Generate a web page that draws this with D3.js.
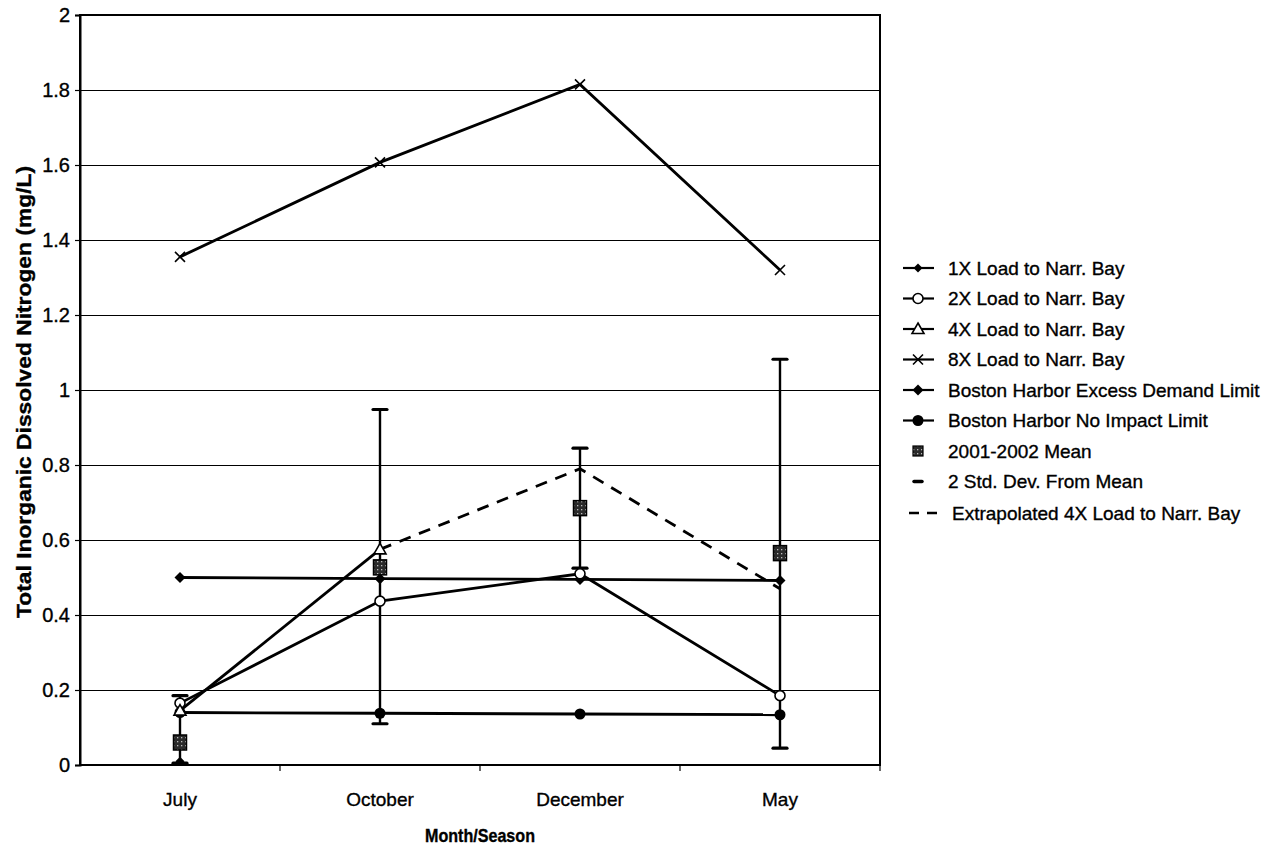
<!DOCTYPE html>
<html><head><meta charset="utf-8">
<script src="https://cdn.jsdelivr.net/npm/d3@7"></script>
<style>
body{margin:0;background:#fff;}
svg text{font-family:"Liberation Sans",Arial,sans-serif;fill:#000;stroke:#000;stroke-width:0.35px;}
</style></head>
<body><svg id="c" width="1278" height="851"></svg>
<script>
const categories = ["July","October","December","May"];
const load1X = [0.01, null, null, null];
const load2X = [0.165, 0.437, 0.51, 0.185];
const load4X = [0.145, 0.575, null, null];
const load8X = [1.355, 1.607, 1.815, 1.32];
const excessDemand = [0.5, 0.497, 0.495, 0.492];
const noImpact = [0.14, 0.138, 0.136, 0.134];
const mean0102 = [0.06, 0.527, 0.685, 0.565];
const sdLow = [0.005, 0.11, 0.525, 0.045];
const sdHigh = [0.185, 0.948, 0.845, 1.082];
const extrap4X = [null, 0.575, 0.79, 0.47];
const yTicks = [0,0.2,0.4,0.6,0.8,1,1.2,1.4,1.6,1.8,2];
const legendLabels = ["1X Load to Narr. Bay","2X Load to Narr. Bay","4X Load to Narr. Bay","8X Load to Narr. Bay","Boston Harbor Excess Demand Limit","Boston Harbor No Impact Limit","2001-2002 Mean","2 Std. Dev. From Mean","Extrapolated 4X Load to Narr. Bay"];

const svg = d3.select("#c");
const L=80,R=880,T=15,B=765;
const x = d3.scaleBand().domain(categories).range([L,R]);
const cx = c => x(c)+x.bandwidth()/2;
const y = d3.scaleLinear().domain([0,2]).range([B,T]);

function squeeze(sel, f){
  sel.each(function(){ const w=this.getComputedTextLength(); d3.select(this).attr("textLength",w*f).attr("lengthAdjust","spacingAndGlyphs"); });
}

const defs = svg.append("defs");
const pat = defs.append("pattern").attr("id","dots").attr("width",4).attr("height",4).attr("patternUnits","userSpaceOnUse");
pat.append("rect").attr("width",4).attr("height",4).attr("fill","#2a2a2a");
pat.append("rect").attr("x",1).attr("y",1).attr("width",1.3).attr("height",1.3).attr("fill","#bbb");

// gridlines
svg.append("g").attr("shape-rendering","crispEdges").selectAll("line").data(yTicks).join("line")
  .attr("x1",L).attr("x2",R).attr("y1",d=>y(d)).attr("y2",d=>y(d))
  .attr("stroke","#000").attr("stroke-width",1);
svg.append("rect").attr("x",L).attr("y",T).attr("width",R-L).attr("height",B-T).attr("shape-rendering","crispEdges")
  .attr("fill","none").attr("stroke","#000").attr("stroke-width",1.5);

// y axis
const ya = svg.append("g").attr("transform",`translate(${L},0)`)
  .call(d3.axisLeft(y).tickValues(yTicks).tickFormat(d3.format("")).tickSize(5));
ya.select(".domain").attr("stroke-width",2);
ya.selectAll(".tick line").attr("stroke-width",1.2);
ya.selectAll("text").style("font-size","20px").attr("dx","-2");
// x axis
const xa = svg.append("g").attr("transform",`translate(0,${B})`)
  .call(d3.axisBottom(x).tickSize(0));
xa.select(".domain").remove();
xa.selectAll("text").style("font-size","19px").attr("dy",null).attr("y",41);
svg.append("g").selectAll("line").data(categories).join("line")
  .attr("x1",(d,i)=>L+(i+1)*x.bandwidth()).attr("x2",(d,i)=>L+(i+1)*x.bandwidth())
  .attr("y1",B).attr("y2",B+6).attr("stroke","#000").attr("stroke-width",1.2);

// titles
svg.append("text").attr("x",480).attr("y",842).attr("text-anchor","middle")
  .style("font-size","18.5px").style("font-weight","bold").text("Month/Season").call(squeeze,0.87);
svg.append("text").attr("transform","translate(31,392) rotate(-90)").attr("text-anchor","middle")
  .style("font-size","21px").style("font-weight","bold").attr("textLength",452).attr("lengthAdjust","spacingAndGlyphs")
  .text("Total Inorganic Dissolved Nitrogen (mg/L)");

const lineGen = d3.line().defined(d=>d.v!=null).x(d=>cx(d.c)).y(d=>y(d.v));
const pts = arr => arr.map((v,i)=>({c:categories[i],v}));

function drawLine(arr, dash){
  svg.append("path").datum(pts(arr)).attr("d",lineGen).attr("fill","none")
    .attr("stroke","#000").attr("stroke-width",2.8).attr("stroke-dasharray",dash?"12,9":null);
}
drawLine(excessDemand);
drawLine(noImpact);
drawLine(extrap4X,true);
drawLine(load1X);
drawLine(load2X);
drawLine(load4X);
drawLine(load8X);

// error bars
const eb = svg.append("g");
categories.forEach((c,i)=>{
  eb.append("line").attr("x1",cx(c)).attr("x2",cx(c)).attr("y1",y(sdLow[i])).attr("y2",y(sdHigh[i])).attr("stroke","#000").attr("stroke-width",2.4);
  [sdLow[i],sdHigh[i]].forEach(v=>{
    eb.append("line").attr("x1",cx(c)-7).attr("x2",cx(c)+7).attr("y1",y(v)).attr("y2",y(v)).attr("stroke","#000").attr("stroke-width",3.2).attr("stroke-linecap","round");
  });
});

function marker(g, type, px, py){
  if(type==="diamond"||type==="smalldiamond"){
    const s = type==="diamond"?5.5:4.5;
    g.append("path").attr("d",`M${px},${py-s}L${px+s},${py}L${px},${py+s}L${px-s},${py}Z`).attr("fill","#000");
  } else if(type==="fcircle"){
    g.append("circle").attr("cx",px).attr("cy",py).attr("r",5.5).attr("fill","#000");
  } else if(type==="ocircle"){
    g.append("circle").attr("cx",px).attr("cy",py).attr("r",5).attr("fill","#fff").attr("stroke","#000").attr("stroke-width",1.6);
  } else if(type==="tri"){
    g.append("path").attr("d",`M${px},${py-6}L${px+6},${py+4.5}L${px-6},${py+4.5}Z`).attr("fill","#fff").attr("stroke","#000").attr("stroke-width",1.6);
  } else if(type==="x"){
    g.append("path").attr("d",`M${px-5},${py-5}L${px+5},${py+5}M${px-5},${py+5}L${px+5},${py-5}`).attr("stroke","#000").attr("stroke-width",1.6);
  } else if(type==="square"){
    g.append("rect").attr("x",px-6.5).attr("y",py-7.5).attr("width",13).attr("height",15).attr("fill","url(#dots)").attr("stroke","#000").attr("stroke-width",1.5);
  }
}
const mg = svg.append("g");
const series = [[excessDemand,"diamond"],[noImpact,"fcircle"],[load1X,"smalldiamond"],[load2X,"ocircle"],[load4X,"tri"],[load8X,"x"],[mean0102,"square"]];
series.forEach(([arr,t])=>arr.forEach((v,i)=>{ if(v!=null) marker(mg,t,cx(categories[i]),y(v)); }));

// legend
const lg = svg.append("g");
const types = ["smalldiamond","ocircle","tri","x","diamond","fcircle"];
legendLabels.forEach((lab,i)=>{
  const ly = 268 + i*30.5 + (i===8?1:0);
  if(i<6){
    lg.append("line").attr("x1",903).attr("x2",934).attr("y1",ly).attr("y2",ly).attr("stroke","#000").attr("stroke-width",2.2);
    marker(lg, types[i], 918, ly);
  } else if(i===6){
    lg.append("rect").attr("x",913).attr("y",ly-5).attr("width",10).attr("height",10).attr("fill","url(#dots)").attr("stroke","#000").attr("stroke-width",1.2);
  } else if(i===7){
    lg.append("line").attr("x1",914).attr("x2",922).attr("y1",ly).attr("y2",ly).attr("stroke","#000").attr("stroke-width",3.5).attr("stroke-linecap","round");
  } else {
    lg.append("line").attr("x1",909).attr("x2",939).attr("y1",ly).attr("y2",ly).attr("stroke","#000").attr("stroke-width",2.6).attr("stroke-dasharray","10,8");
  }
  lg.append("text").attr("x", i===8?952:948).attr("y",ly).attr("dy","0.36em")
    .style("font-size","19px").text(lab);
});
</script></body></html>
